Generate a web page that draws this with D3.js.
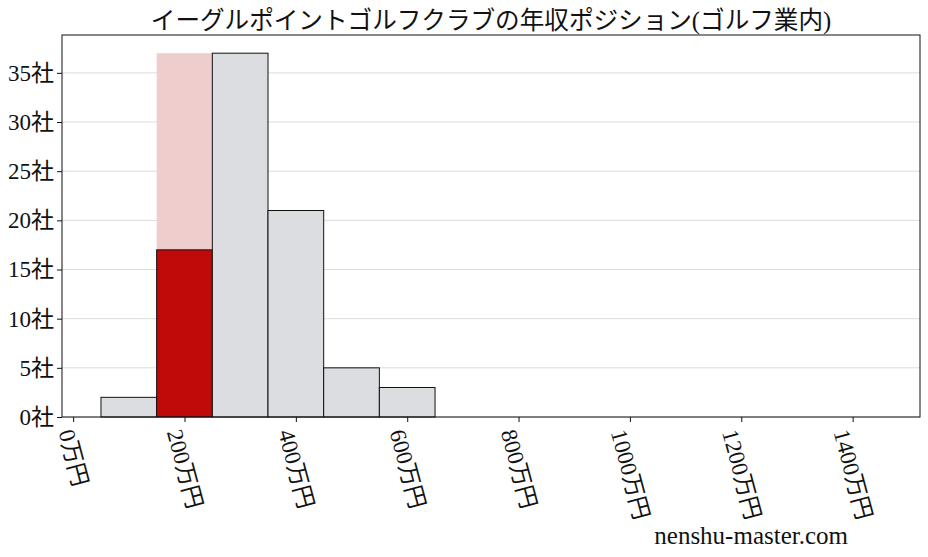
<!DOCTYPE html>
<html>
<head>
<meta charset="utf-8">
<script src="https://cdn.jsdelivr.net/npm/d3@7"></script>
<style>
  body { margin: 0; background: #fff; }
  text { font-family: "Liberation Serif", "DejaVu Serif", "Noto Sans CJK JP", serif; }
</style>
</head>
<body>
<div id="chart"></div>
<script>
// 年収の階級 (万円) と社数
var binStart = [50, 150, 250, 350, 450, 550];
var binEnd   = [150, 250, 350, 450, 550, 650];
var counts   = [2, 17, 37, 21, 5, 3];
// 自社がいる階級 (赤) と、その上に重ねる薄い柱の高さ
var highlightIndex = 1;
var highlightBack = 37;

var xTicks = [0, 200, 400, 600, 800, 1000, 1200, 1400];
var yTicks = [0, 5, 10, 15, 20, 25, 30, 35];

var title = "イーグルポイントゴルフクラブの年収ポジション(ゴルフ業内)";

var W = 928, H = 557;
var margin = { top: 35, right: 8, bottom: 140, left: 62 },
    width = W - margin.left - margin.right,
    height = H - margin.top - margin.bottom;

var x = d3.scaleLinear().domain([-20, 1521]).range([0, width]);
var y = d3.scaleLinear().domain([0, 37 * 1.05]).range([height, 0]);

var svg = d3.select("#chart").append("svg")
    .attr("width", W)
    .attr("height", H);

var g = svg.append("g")
    .attr("transform", "translate(" + margin.left + "," + margin.top + ")");

// grid
g.append("g")
    .selectAll("line")
    .data(yTicks)
    .enter()
    .append("line")
    .attr("x1", 0)
    .attr("x2", width)
    .attr("y1", function(d) { return y(d); })
    .attr("y2", function(d) { return y(d); })
    .attr("stroke", "#dcdcdc")
    .attr("stroke-width", 1);

// pale bar behind the highlighted one
g.append("rect")
    .attr("x", x(binStart[highlightIndex]))
    .attr("y", y(highlightBack))
    .attr("width", x(binEnd[highlightIndex]) - x(binStart[highlightIndex]))
    .attr("height", y(0) - y(highlightBack))
    .attr("fill", "#f0cdcd");

// bars
g.append("g")
    .selectAll("rect")
    .data(counts)
    .enter()
    .append("rect")
    .attr("x", function(d, i) { return x(binStart[i]); })
    .attr("y", function(d) { return y(d); })
    .attr("width", function(d, i) { return x(binEnd[i]) - x(binStart[i]); })
    .attr("height", function(d) { return y(0) - y(d); })
    .attr("fill", function(d, i) { return i === highlightIndex ? "#c00a0a" : "#dcdde0"; })
    .attr("stroke", "#111")
    .attr("stroke-width", 1);

// frame
g.append("rect")
    .attr("width", width)
    .attr("height", height)
    .attr("fill", "none")
    .attr("stroke", "#111")
    .attr("stroke-width", 1);

// y axis
var yAxis = g.append("g")
    .call(d3.axisLeft(y).tickValues(yTicks).tickSize(5).tickPadding(3)
        .tickFormat(function(d) { return d + "社"; }));
yAxis.select(".domain").remove();
yAxis.selectAll("line").attr("stroke", "#111");
yAxis.selectAll("text")
    .attr("font-size", 23)
    .attr("fill", "#111")
    .style("font-family", "'Liberation Serif', 'Noto Sans CJK JP', serif");

// x axis
var xAxis = g.append("g")
    .attr("transform", "translate(0," + height + ")")
    .call(d3.axisBottom(x).tickValues(xTicks).tickSize(5)
        .tickFormat(function(d) { return d + "万円"; }));
xAxis.select(".domain").remove();
xAxis.selectAll("line").attr("stroke", "#111");
var ang = 75 * Math.PI / 180;
xAxis.selectAll("text")
    .attr("font-size", 23)
    .attr("fill", "#111")
    .style("font-family", "'Liberation Serif', 'Noto Sans CJK JP', serif")
    .attr("text-anchor", "start")
    .attr("dy", "0.35em")
    .attr("y", 0)
    .attr("transform", function() {
        var L = this.getComputedTextLength();
        return "translate(" + (-L * Math.cos(ang) / 2) + ",13) rotate(75)";
    });

// title
svg.append("text")
    .attr("x", margin.left + width / 2)
    .attr("y", 29)
    .attr("text-anchor", "middle")
    .attr("font-size", 24.6)
    .attr("fill", "#111")
    .text(title);

// watermark
svg.append("text")
    .attr("x", 848)
    .attr("y", 544)
    .attr("text-anchor", "end")
    .attr("font-size", 25)
    .attr("fill", "#111")
    .text("nenshu-master.com");
</script>
</body>
</html>
